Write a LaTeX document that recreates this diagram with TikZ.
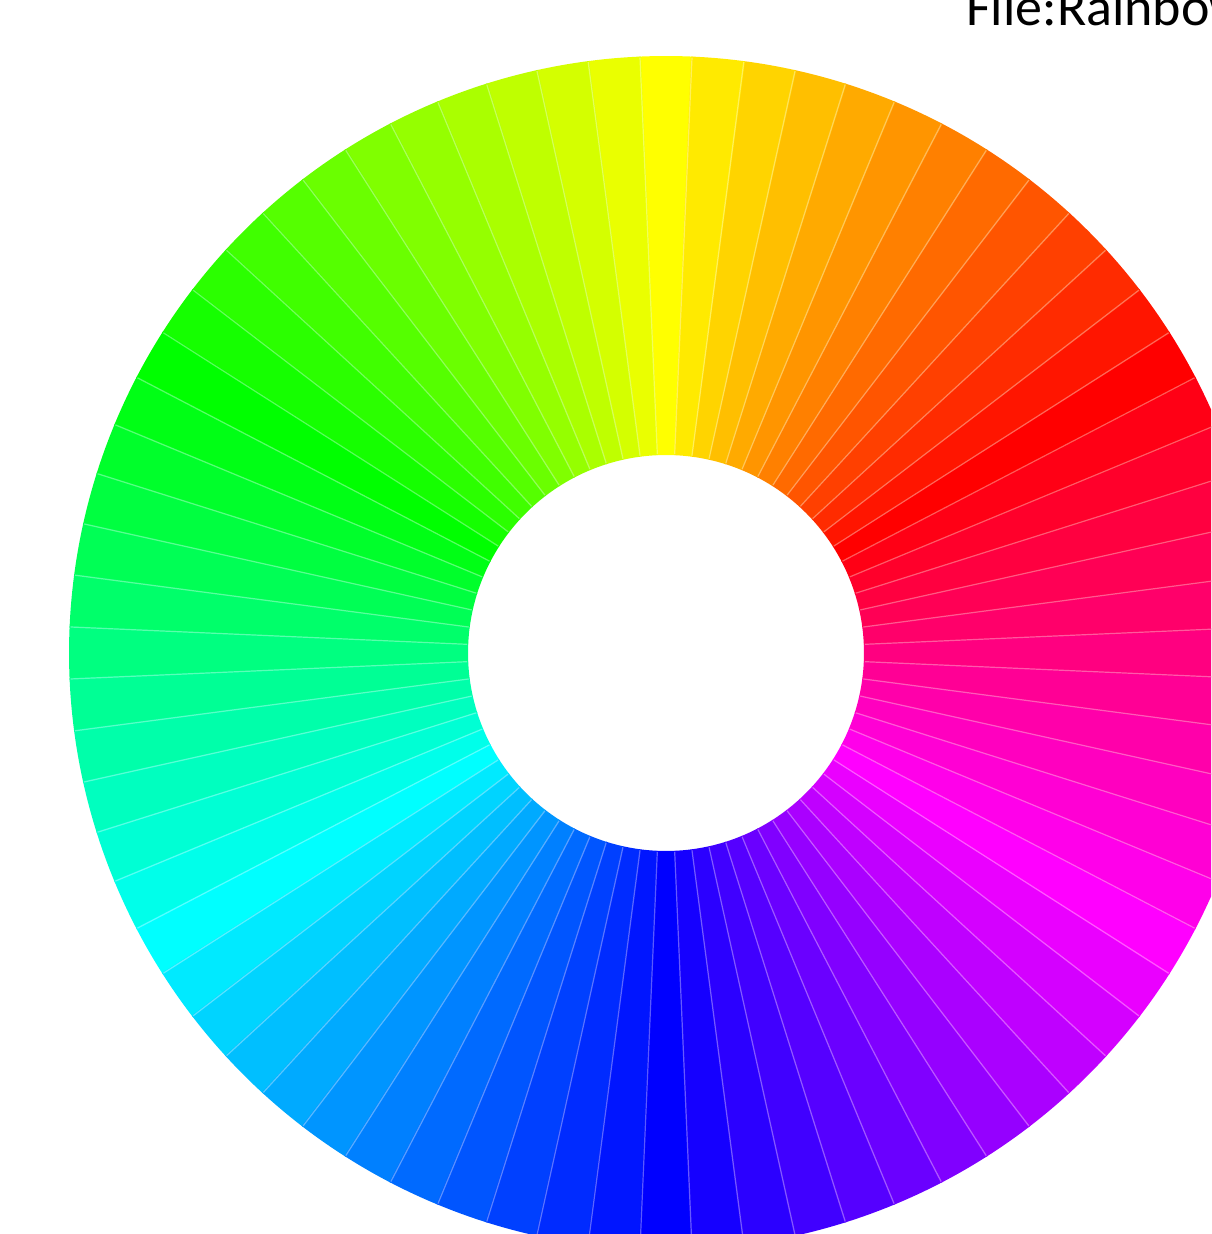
\documentclass[tikz,border=0pt]{standalone}
\usepackage{fontspec}
\newfontfamily\labelfont{Carlito}
\begin{document}
\begin{tikzpicture}[x=1pt,y=1pt,
  seam/.style={white,opacity=0.35,line width=1.2pt},
  titletext/.style={font=\labelfont\fontsize{54}{64}\selectfont,inner sep=0pt,anchor=base west}]
\useasboundingbox (0,0) rectangle (1211,1234);
\clip (0,0) rectangle (1211,1234);
\fill[white] (0,0) rectangle (1211,1234);
\coordinate (c) at (666,581);
\def\ro{597}
\def\ri{198}
\begin{scope}[shift={(c)}]
\foreach \k in {0,...,71}{
  \pgfmathsetmacro{\a}{90+5*\k}
  \pgfmathsetmacro{\h}{mod(60+5*\k,360)}
  \pgfmathsetmacro{\s}{\a-2.6}
  \pgfmathsetmacro{\e}{\a+2.6}
  \definecolor{seg}{Hsb}{\h,1,1}
  \fill[seg] (\s:\ro) arc[start angle=\s, end angle=\e, radius=\ro]
     -- (\e:\ri) arc[start angle=\e, end angle=\s, radius=\ri] -- cycle;
}
\foreach \k in {0,...,71}{
  \pgfmathsetmacro{\b}{92.5+5*\k}
  \draw[seam] (\b:\ri+1) -- (\b:\ro-1);
}
\end{scope}
\node[titletext] (title) at (966,1208) {File:Rainbow};
\end{tikzpicture}
\end{document}
